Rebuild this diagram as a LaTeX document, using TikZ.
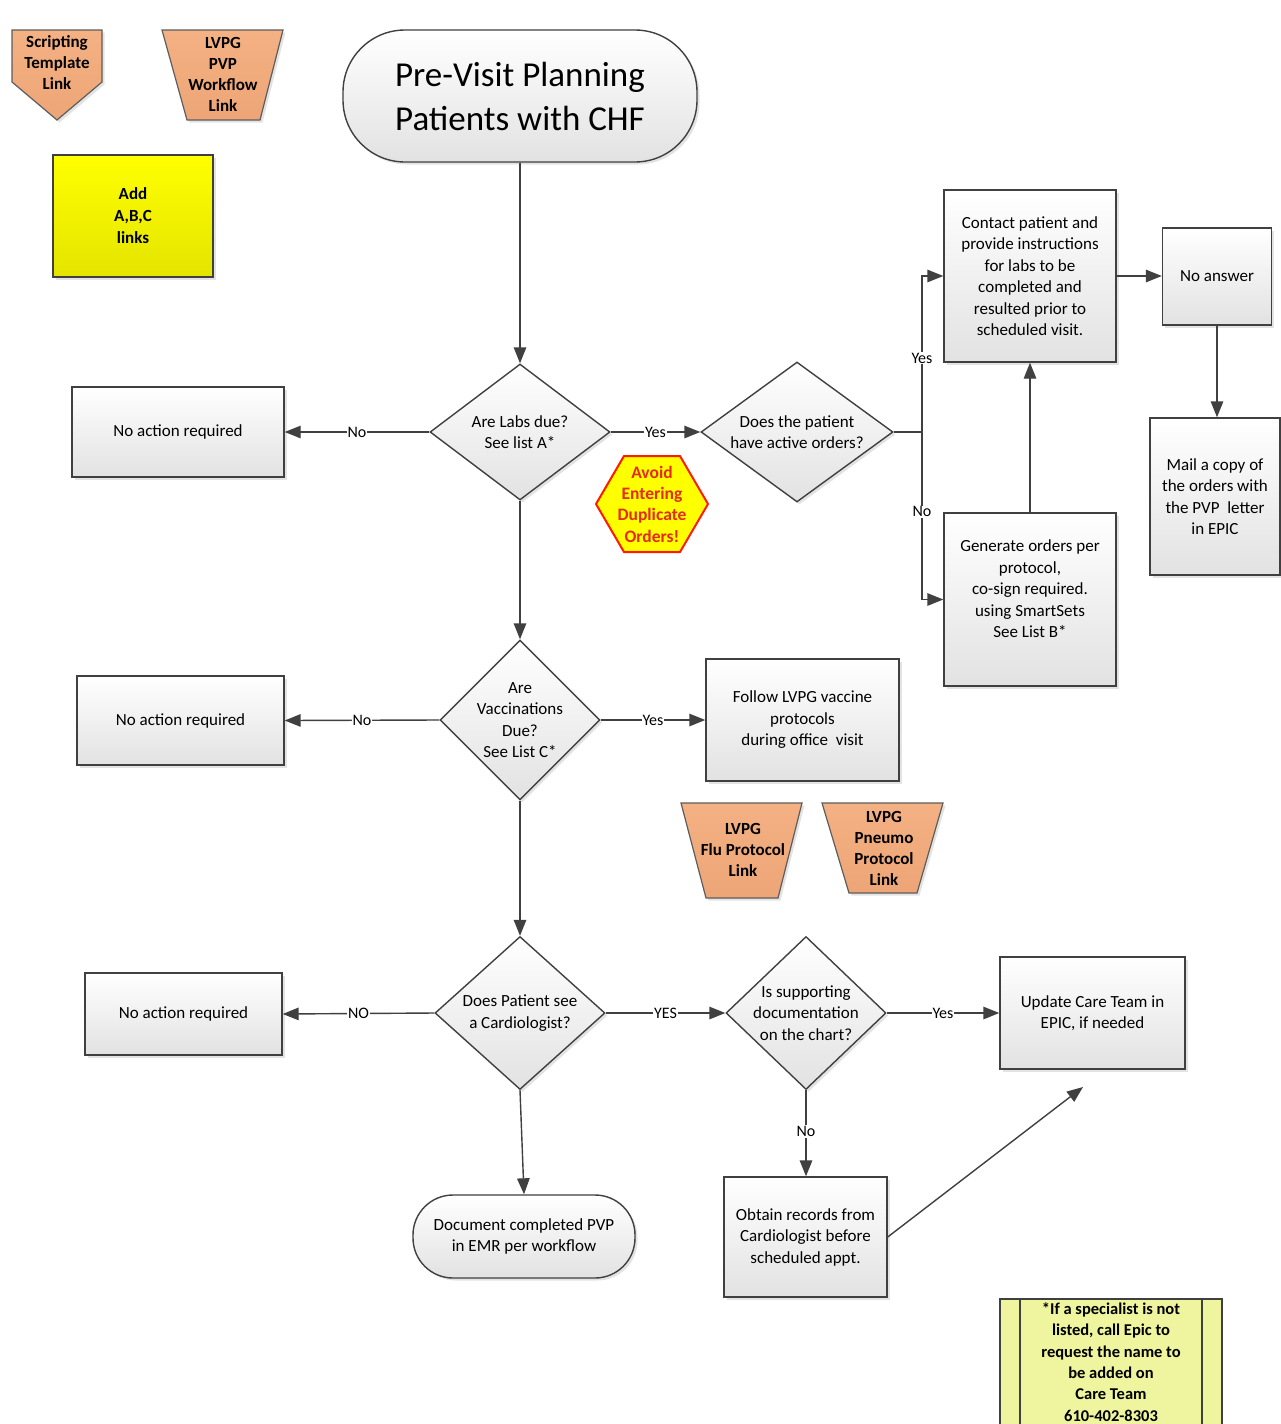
\documentclass[tikz,border=0pt]{standalone}
\usepackage{fontspec}
\setmainfont{Carlito}
\usetikzlibrary{shapes.geometric,arrows.meta,shadows,calc}

\definecolor{lc}{HTML}{404040}
\definecolor{orng}{HTML}{F4B183}
\definecolor{orngd}{HTML}{EDA577}
\definecolor{notec}{HTML}{EEF59E}
\definecolor{hexred}{HTML}{FF1A00}
\definecolor{hextext}{HTML}{E52A16}
\definecolor{boxbot}{HTML}{E2E2E2}
\definecolor{ylw}{HTML}{FFFF00}
\definecolor{ylwd}{HTML}{E4E400}

\begin{document}
\begin{tikzpicture}[x=1pt,y=-1pt,
  shd/.style={drop shadow={shadow xshift=2.5pt,shadow yshift=-2.5pt,opacity=0.22}},
  box/.style={draw=lc,line width=1.4pt,top color=white,bottom color=boxbot,align=center,inner sep=0pt,font=\fontsize{17}{21.5}\selectfont,shd},
  term/.style={box},
  dia/.style={diamond,draw=lc,line width=1.4pt,top color=white,bottom color=boxbot,inner sep=0pt,shd},
  dtext/.style={align=center,font=\fontsize{17}{21.5}\selectfont,inner sep=0pt},
  oshape/.style={draw=lc!85,line width=1.2pt,top color=orng,bottom color=orngd,shd},
  otext/.style={align=center,font=\bfseries\fontsize{17}{21}\selectfont,inner sep=0pt},
  arr/.style={draw=lc,line width=1.4pt,-{Triangle[length=16pt,width=12.5pt]}},
  ln/.style={draw=lc,line width=1.4pt},
  lab/.style={fill=white,inner sep=1pt,font=\fontsize{16}{18}\selectfont}
]
\useasboundingbox (0,0) rectangle (1281,1424);
\fill[white] (0,0) rectangle (1281,1424);

% ---- top-left link shapes
\path[oshape] (12,30) -- (102,30) -- (102,82) -- (57,120) -- (12,82) -- cycle;
\node[otext] (script) at (57,63) {Scripting\\Template\\Link};
\path[oshape] (162,30) -- (283,30) -- (260,120) -- (187,120) -- cycle;
\node[otext] (pvplink) at (223,74) {LVPG\\PVP\\Workflow\\Link};

\node[draw=lc,line width=1.4pt,top color=ylw,bottom color=ylwd,minimum width=160pt,minimum height=122pt,align=center,inner sep=0pt,font=\bfseries\fontsize{17}{22}\selectfont,shd] (addabc) at (133,216) {Add\\A,B,C\\links};

% ---- title
\node[term,minimum width=354pt,minimum height=132pt,rounded corners=62pt,font=\fontsize{35}{44}\selectfont] (title) at (520,96) {Pre-Visit Planning\\Patients with CHF};

% ---- row 1
\node[dia,minimum width=180pt,minimum height=136pt,label={[dtext]center:{Are Labs due?\\See list A*}}] (d1) at (520,432) {};
\node[box,minimum width=212pt,minimum height=90pt] (na1) at (178,432) {No action required};
\node[dia,minimum width=192pt,minimum height=140pt,label={[dtext]center:{Does the patient\\have active orders?}}] (d2) at (797,432) {};
\node[box,minimum width=172pt,minimum height=172pt] (contact) at (1030,276) {Contact patient and\\provide instructions\\for labs to be\\completed and\\resulted prior to\\scheduled visit.};
\node[box,minimum width=172pt,minimum height=173pt] (gen) at (1030,599.5) {Generate orders per\\protocol,\\co-sign required.\\using SmartSets\\See List B*\\\mbox{}};
\node[box,minimum width=109pt,minimum height=97pt] (noans) at (1217,276.5) {No answer};
\node[box,minimum width=130pt,minimum height=157pt] (mail) at (1215,496.5) {Mail a copy of\\the orders with\\the PVP\ \ letter\\in EPIC};

% hexagon
\path[draw=hexred,line width=2pt,fill=ylw] (596,504) -- (624,456) -- (680,456) -- (708,504) -- (680,552) -- (624,552) -- cycle;
\node[align=center,inner sep=0pt,text=hextext,font=\bfseries\fontsize{17.5}{21.3}\selectfont] (hex) at (652,504) {Avoid\\Entering\\Duplicate\\Orders!};

% ---- row 2
\node[dia,minimum width=160pt,minimum height=160pt,label={[dtext]center:{Are\\Vaccinations\\Due?\\See List C*}}] (d3) at (520,720) {};
\node[box,minimum width=207pt,minimum height=89pt] (na2) at (180.5,720.5) {No action required};
\node[box,minimum width=193pt,minimum height=122pt] (follow) at (802.5,720) {Follow LVPG vaccine\\protocols\\during office\ \ visit};

\path[oshape] (681,803) -- (802,803) -- (778,898) -- (706,898) -- cycle;
\node[otext] (flu) at (743,850) {LVPG\\Flu Protocol\\Link};
\path[oshape] (822,803) -- (943,803) -- (917,893) -- (849,893) -- cycle;
\node[otext] (pneumo) at (884,848) {LVPG\\Pneumo\\Protocol\\Link};

% ---- row 3
\node[dia,minimum width=170pt,minimum height=153pt,label={[dtext]center:{Does Patient see\\a Cardiologist?}}] (d4) at (520,1013) {};
\node[box,minimum width=197pt,minimum height=82pt] (na3) at (183.5,1014) {No action required};
\node[dia,minimum width=160pt,minimum height=153pt,label={[dtext]center:{Is supporting\\documentation\\on the chart?}}] (d5) at (806,1013) {};
\node[box,minimum width=185pt,minimum height=112pt] (update) at (1092.5,1013) {Update Care Team in\\EPIC, if needed};
\node[box,minimum width=163pt,minimum height=120pt] (obtain) at (805.5,1237) {Obtain records from\\Cardiologist before\\scheduled appt.};
\node[term,minimum width=222pt,minimum height=83pt,rounded corners=40pt] (doc) at (524,1236.5) {Document completed PVP\\in EMR per workflow};
\coordinate (free) at (1083,1087);

% ---- note
\path[draw=lc,line width=1.4pt,fill=notec] (1000,1299) rectangle (1222,1440);
\draw[lc,line width=1.2pt] (1020,1299) -- (1020,1440) (1202,1299) -- (1202,1440);
\node[align=center,inner sep=0pt,font=\bfseries\fontsize{16.5}{21.3}\selectfont] (note) at (1111,1362) {*If a specialist is not\\listed, call Epic to\\request the name to\\be added on\\Care Team\\610-402-8303};

% ---- connectors
\draw[arr] (title.south) -- (d1.north);
\draw[arr] (d1.west) -- node[lab]{No} (na1.east);
\draw[arr] (d1.east) -- node[lab]{Yes} (d2.west);
\coordinate (j) at (922,432);
\draw[ln] (d2.east) -- (j);
\draw[arr] (j) |- node[lab,pos=0.237]{Yes} (contact.west);
\draw[arr] (j) |- node[lab,pos=0.238]{No} (gen.west);
\draw[arr] (gen.north) -- (contact.south);
\draw[arr] (contact.east) -- (contact.east-|noans.west);
\draw[arr] (noans.south) -- (noans.south|-mail.north);

\draw[arr] (d1.south) -- (d3.north);
\draw[arr] (d3.west) -- node[lab]{No} (na2.east);
\draw[arr] (d3.east) -- node[lab]{Yes} (follow.west);

\draw[arr] (d3.south) -- (d4.north);
\draw[arr] (d4.west) -- node[lab]{NO} (na3.east);
\draw[arr] (d4.east) -- node[lab]{YES} (d5.west);
\draw[arr] (d5.east) -- node[lab]{Yes} (update.west);
\draw[arr] (d5.south) -- node[lab,pos=0.48]{No} (d5.south|-obtain.north);
\draw[arr] (d4.south) -- (doc.north);
\draw[arr] (obtain.east) -- (free);
\end{tikzpicture}
\end{document}
